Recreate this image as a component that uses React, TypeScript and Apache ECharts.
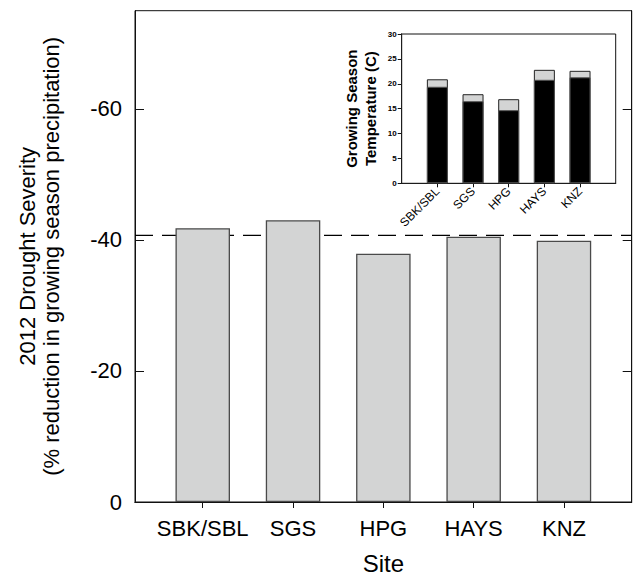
import React, { useEffect, useRef } from "react";
import * as echarts from "echarts";

// Main chart data
const sites = ["SBK/SBL", "SGS", "HPG", "HAYS", "KNZ"];
const sitePositions = [1, 2, 3, 4, 5];
const droughtSeverity = [-41.8, -43.0, -37.9, -40.5, -39.9];
const meanSeverity = -40.7;
const mainYTicks = [0, -20, -40, -60];
const mainXRange = [0.25, 5.75];

// Inset data
const tempBase = [19.4, 16.5, 14.7, 20.8, 21.3];
const tempTotal = [20.9, 17.9, 16.9, 22.8, 22.6];

const FONT = "'Liberation Sans', Arial, Helvetica, sans-serif";

export default function App() {
  const ref = useRef<HTMLDivElement>(null);

  useEffect(() => {
    if (!ref.current) return;
    const chart = echarts.init(ref.current, undefined, { renderer: "svg" });

    const mainBars = sitePositions.map((x, i) => [x, droughtSeverity[i]]);
    const insetBase = sitePositions.map((x, i) => [x, tempBase[i]]);
    const insetTotal = sitePositions.map((x, i) => [x, tempTotal[i]]);
    const labelOf = (v: number) => {
      const idx = sitePositions.indexOf(Math.round(v));
      return idx >= 0 && Math.abs(v - Math.round(v)) < 1e-6 ? sites[idx] : "";
    };

    const axisLine = { show: true, lineStyle: { color: "#111", width: 1 } };

    const option: any = {
      animation: false,
      backgroundColor: "#fff",
      textStyle: { fontFamily: FONT },
      grid: [
        {
          left: 135,
          right: 4.3,
          top: 10.7,
          bottom: 72.7,
          show: true,
          borderColor: "#111",
          borderWidth: 1,
          backgroundColor: "transparent",
        },
        {
          left: 401.7,
          right: 20.3,
          top: 34,
          bottom: 396.7,
          show: true,
          borderColor: "#111",
          borderWidth: 1,
          backgroundColor: "#fff",
          z: 5,
        },
      ],
      xAxis: [
        {
          type: "value",
          gridIndex: 0,
          min: mainXRange[0],
          max: mainXRange[1],
          position: "bottom",
          axisLine,
          splitLine: { show: false },
          axisTick: { show: true, inside: true, length: 6, customValues: sitePositions, lineStyle: { color: "#111" } },
          axisLabel: {
            customValues: sitePositions,
            formatter: (v: number) => labelOf(v),
            fontSize: 22,
            color: "#000",
            margin: 15,
            fontFamily: FONT,
          },
          name: "Site",
          nameLocation: "middle",
          nameGap: 49,
          nameTextStyle: { fontSize: 24, color: "#000", fontFamily: FONT },
        },
        {
          type: "value",
          gridIndex: 0,
          min: mainXRange[0],
          max: mainXRange[1],
          position: "top",
          axisLine,
          splitLine: { show: false },
          axisTick: { show: true, inside: true, length: 6, customValues: sitePositions, lineStyle: { color: "#111" } },
          axisLabel: { show: false, customValues: sitePositions },
        },
        {
          type: "value",
          gridIndex: 1,
          min: 0,
          max: 6,
          position: "bottom",
          axisLine,
          splitLine: { show: false },
          axisTick: { show: true, inside: true, length: 4, customValues: sitePositions, lineStyle: { color: "#111" } },
          axisLabel: {
            customValues: sitePositions,
            formatter: (v: number) => labelOf(v),
            rotate: 45,
            fontSize: 12,
            color: "#000",
            margin: 6,
            fontFamily: FONT,
          },
        },
        {
          type: "value",
          gridIndex: 1,
          min: 0,
          max: 6,
          position: "top",
          axisLine,
          splitLine: { show: false },
          axisTick: { show: true, inside: true, length: 4, customValues: sitePositions, lineStyle: { color: "#111" } },
          axisLabel: { show: false, customValues: sitePositions },
        },
      ],
      yAxis: [
        {
          type: "value",
          gridIndex: 0,
          min: -75,
          max: 0,
          inverse: true,
          position: "left",
          axisLine,
          splitLine: { show: false },
          axisTick: { show: true, inside: true, length: 9, customValues: mainYTicks, lineStyle: { color: "#111" } },
          axisLabel: { customValues: mainYTicks, fontSize: 22, color: "#000", margin: 13, fontFamily: FONT },
          name: "2012 Drought Severity\n(% reduction in growing season precipitation)",
          nameLocation: "middle",
          nameGap: 72,
          nameTextStyle: { fontSize: 22, lineHeight: 24, color: "#000", fontFamily: FONT },
        },
        {
          type: "value",
          gridIndex: 0,
          min: -75,
          max: 0,
          inverse: true,
          position: "right",
          axisLine,
          splitLine: { show: false },
          axisTick: { show: true, inside: true, length: 9, customValues: mainYTicks, lineStyle: { color: "#111" } },
          axisLabel: { show: false, customValues: mainYTicks },
        },
        {
          type: "value",
          gridIndex: 1,
          min: 0,
          max: 30,
          interval: 5,
          position: "left",
          axisLine,
          splitLine: { show: false },
          axisTick: { show: true, inside: true, length: 4, lineStyle: { color: "#111" } },
          axisLabel: { fontSize: 8, fontWeight: "bold", color: "#000", margin: 5, fontFamily: FONT },
          name: "Growing Season\nTemperature (C)",
          nameLocation: "middle",
          nameGap: 22,
          nameTextStyle: { fontSize: 15, lineHeight: 19, fontWeight: "bold", color: "#000", fontFamily: FONT },
        },
        {
          type: "value",
          gridIndex: 1,
          min: 0,
          max: 30,
          interval: 5,
          position: "right",
          axisLine,
          splitLine: { show: false },
          axisTick: { show: true, inside: true, length: 4, lineStyle: { color: "#111" } },
          axisLabel: { show: false },
        },
      ],
      series: [
        {
          type: "line",
          name: "mean",
          xAxisIndex: 0,
          yAxisIndex: 0,
          data: [
            [mainXRange[0], meanSeverity],
            [mainXRange[1], meanSeverity],
          ],
          symbol: "none",
          lineStyle: { color: "#000", width: 1.2, type: [18, 9] },
          z: 1,
          silent: true,
        },
        {
          type: "bar",
          name: "severity",
          xAxisIndex: 0,
          yAxisIndex: 0,
          data: mainBars,
          barWidth: 54.5,
          itemStyle: { color: "#d3d4d4", borderColor: "#4a4a4a", borderWidth: 1.3 },
          z: 2,
        },
        {
          type: "bar",
          name: "total",
          xAxisIndex: 2,
          yAxisIndex: 2,
          data: insetTotal,
          barWidth: 21,
          barGap: "-100%",
          itemStyle: { color: "#d3d4d4", borderColor: "#222", borderWidth: 1 },
          z: 6,
        },
        {
          type: "bar",
          name: "base",
          xAxisIndex: 2,
          yAxisIndex: 2,
          data: insetBase,
          barWidth: 21,
          barGap: "-100%",
          itemStyle: { color: "#000", borderColor: "#555", borderWidth: 1 },
          z: 7,
        },
      ],
    };

    chart.setOption(option);
    return () => chart.dispose();
  }, []);

  return <div ref={ref} style={{ width: 636, height: 580, position: "absolute", left: 0, top: 0 }} />;
}
